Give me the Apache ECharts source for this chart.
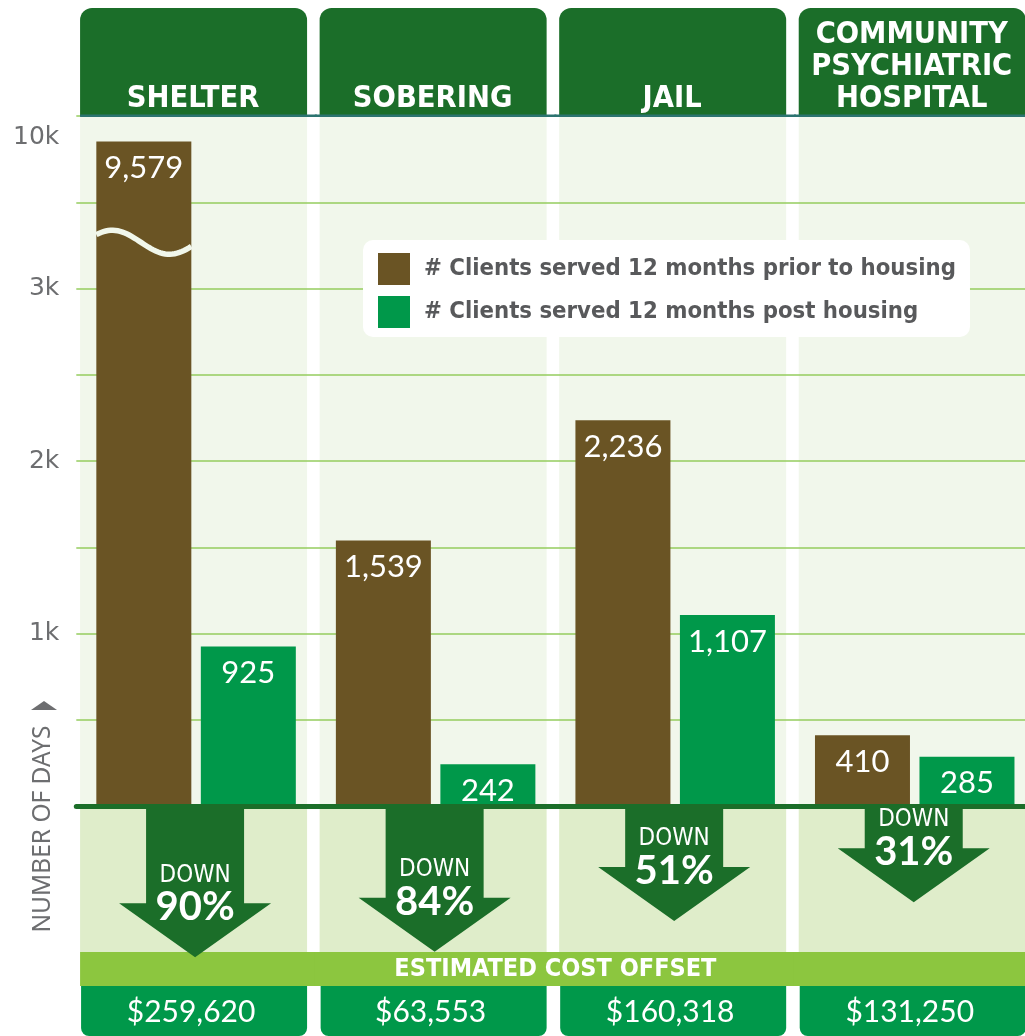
<!DOCTYPE html>
<html><head><meta charset="utf-8">
<script src="https://cdn.jsdelivr.net/npm/echarts@6/dist/echarts.min.js"></script>
<style>html,body{margin:0;padding:0;background:#fff}#chart{width:1025px;height:1036px}</style>
</head><body><div id="chart"></div>
<script>
// ---------------- data ----------------
const CATEGORIES = ['SHELTER', 'SOBERING', 'JAIL', 'COMMUNITY\nPSYCHIATRIC\nHOSPITAL'];
const PRIOR = [9579, 1539, 2236, 410];
const POST = [925, 242, 1107, 285];
const PCT_DOWN = [90, 84, 51, 31];
const COST_OFFSET = ['$259,620', '$63,553', '$160,318', '$131,250'];
const SERIES_NAMES = ['# Clients served 12 months prior to housing', '# Clients served 12 months post housing'];
const Y_TICK_VALUES = [1000, 2000, 3000, 10000];
const Y_TICK_LABELS = ['1k', '2k', '3k', '10k'];
const AXIS_BREAK = 3500;      // axis is linear up to here, compressed above (broken axis)
const BREAK_COMPRESS = 0.058;
const Y_NAME = 'NUMBER OF DAYS';
const DOWN_WORD = 'DOWN';
const OFFSET_TITLE = 'ESTIMATED COST OFFSET';

// ---------------- style ----------------
const BROWN = '#6a5424', GREEN = '#00984a', DARK = '#1b6e29', LIME = '#8cc63f';
const BG_UP = '#f1f7eb', BG_LOW = '#dfedca', GRID_LINE = '#95cc5e', TEAL = '#2c7470';
const COND = "'DejaVu Sans Condensed', 'DejaVu Sans', sans-serif";
const HUM = "Lato, 'Noto Sans', sans-serif";
const BAR_W = 95, BAR_GAP = 0.1;
const PCT_MIN = -72, PCT_MAX = 110;

function toDisplay(v) { return v <= AXIS_BREAK ? v : AXIS_BREAK + (v - AXIS_BREAK) * BREAK_COMPRESS; }
function fmt(v) { return String(v).replace(/\B(?=(\d{3})+(?!\d))/g, ','); }
const TICK_DISPLAY = Y_TICK_VALUES.map(toDisplay);

const chart = echarts.init(document.getElementById('chart'), null, {renderer: 'canvas'});

const gridCommon = {left: 76.3, right: -9.5, outerBoundsMode: 'none', containLabel: false};

const option = {
  animation: false,
  backgroundColor: '#ffffff',
  grid: [
    Object.assign({top: 116, height: 690}, gridCommon),
    Object.assign({top: 806, height: 170}, gridCommon)
  ],
  legend: {
    data: SERIES_NAMES, orient: 'vertical', left: 363, top: 240,
    itemWidth: 32, itemHeight: 32, itemGap: 11, icon: 'rect',
    padding: [13, 14, 9, 15], backgroundColor: '#ffffff', borderRadius: 10,
    selectedMode: false,
    textStyle: {fontFamily: COND, fontWeight: 'bold', fontSize: 23.7, color: '#58595b', padding: [3, 0, 0, 9]}
  },
  xAxis: [
    {type: 'category', gridIndex: 0, data: CATEGORIES, z: 4,
     axisLine: {lineStyle: {color: DARK, width: 5}}, axisTick: {show: false}, axisLabel: {show: false}},
    {type: 'category', gridIndex: 1, data: CATEGORIES, show: false}
  ],
  yAxis: [
    {type: 'value', gridIndex: 0, min: 0, max: 4000, interval: 500,
     axisLine: {show: false}, axisTick: {show: false},
     axisLabel: {customValues: TICK_DISPLAY, margin: 17, color: '#6d6e70', fontSize: 25, fontFamily: "'DejaVu Sans', sans-serif",
       formatter: function (val) {
         let best = 0;
         TICK_DISPLAY.forEach((t, k) => { if (Math.abs(t - val) < Math.abs(TICK_DISPLAY[best] - val)) best = k; });
         return Y_TICK_LABELS[best];
       }},
     splitLine: {lineStyle: {color: GRID_LINE, width: 1.5}}},
    {type: 'value', gridIndex: 1, min: PCT_MIN, max: PCT_MAX, inverse: true, show: false}
  ],
  graphic: [
    {type: 'text', x: 43, y: 829, rotation: Math.PI / 2,
     style: {text: Y_NAME, fill: '#6d6e70', fontSize: 24.5, fontFamily: "'Noto Sans', sans-serif", align: 'center', verticalAlign: 'middle'}},
    {type: 'polygon', shape: {points: [[31, 710], [57, 710], [44, 701]]}, style: {fill: '#6d6e70'}}
  ],
  series: [
    // column backgrounds (below grid lines)
    {type: 'custom', name: 'colbg', xAxisIndex: 0, yAxisIndex: 0, z: -5, silent: true,
     data: CATEGORIES.map((c, i) => [i, 0]),
     renderItem: function (params, api) {
       const p0 = api.coord([api.value(0), 0]);
       const pt = api.coord([api.value(0), 4000]);
       return {type: 'rect', shape: {x: p0[0] - 116, y: pt[1], width: 227, height: p0[1] - pt[1]}, style: {fill: BG_UP}};
     }},
    // frame: headers, lower panel, cost band, cost boxes
    {type: 'custom', name: 'frame', xAxisIndex: 0, yAxisIndex: 0, z: 1, silent: true,
     data: CATEGORIES.map((c, i) => [i, 0]),
     renderItem: function (params, api) {
       const i = api.value(0);
       const p0 = api.coord([i, 0]);
       const pt = api.coord([i, 4000]);
       const bw = api.size([1, 0])[0];
       const cx = p0[0], y0 = p0[1], yt = pt[1];
       const colL = cx - 116, colW = 227;
       const bandL = i === 0 ? colL : cx - bw / 2 - 1;
       const bandR = cx + bw / 2 + 1;
       const children = [
         {type: 'rect', shape: {x: colL, y: yt - 108, width: colW, height: 108, r: [12, 12, 0, 0]}, style: {fill: DARK}},
         {type: 'rect', shape: {x: bandL, y: yt - 1.5, width: bandR - bandL, height: 2.5}, style: {fill: TEAL}},
         {type: 'text', x: cx - 3, y: yt - 1, style: {text: CATEGORIES[i], fill: '#fff', fontSize: 30.5, fontWeight: 'bold',
           fontFamily: COND, align: 'center', verticalAlign: 'bottom', lineHeight: 32}},
         {type: 'rect', shape: {x: colL, y: y0 + 2.5, width: colW, height: 143.5}, style: {fill: BG_LOW}},
         {type: 'rect', shape: {x: bandL, y: y0 + 146, width: bandR - bandL, height: 34}, style: {fill: LIME}},
         {type: 'rect', shape: {x: colL + 1, y: y0 + 180, width: colW - 1, height: 50, r: [0, 0, 8, 8]}, style: {fill: GREEN}},
         {type: 'text', x: cx - 5, y: y0 + 206, style: {text: COST_OFFSET[i], fill: '#fff', fontSize: 30,
           fontFamily: HUM, align: 'center', verticalAlign: 'middle'}}
       ];
       if (i === Math.floor((CATEGORIES.length - 1) / 2)) {
         children.push({type: 'text', x: cx + bw / 2, y: y0 + 163.5, z2: 10, style: {text: OFFSET_TITLE, fill: '#fff', fontSize: 25,
           fontWeight: 'bold', fontFamily: COND, align: 'center', verticalAlign: 'middle'}});
       }
       return {type: 'group', children: children};
     }},
    {type: 'bar', name: SERIES_NAMES[0], xAxisIndex: 0, yAxisIndex: 0, z: 2,
     data: PRIOR.map(toDisplay), barWidth: BAR_W, barGap: (BAR_GAP * 100) + '%',
     itemStyle: {color: BROWN},
     label: {show: true, position: 'insideTop', distance: 11, color: '#fff', fontFamily: HUM, fontSize: 31,
       formatter: p => fmt(PRIOR[p.dataIndex])}},
    {type: 'bar', name: SERIES_NAMES[1], xAxisIndex: 0, yAxisIndex: 0, z: 2,
     data: POST.map(toDisplay), barWidth: BAR_W, barGap: (BAR_GAP * 100) + '%',
     itemStyle: {color: GREEN},
     label: {show: true, position: 'insideTop', distance: 11, color: '#fff', fontFamily: HUM, fontSize: 31,
       formatter: p => fmt(POST[p.dataIndex])}},
    // broken-axis wave across bars exceeding the break
    {type: 'custom', name: 'break', xAxisIndex: 0, yAxisIndex: 0, z: 3, silent: true,
     data: PRIOR.map((v, i) => [i, v]),
     renderItem: function (params, api) {
       const i = api.value(0), v = api.value(1);
       if (v <= AXIS_BREAK) return null;
       const c = api.coord([i, AXIS_BREAK]);
       const center = c[0] - BAR_W * (1 + BAR_GAP) / 2;
       const left = center - BAR_W / 2;
       const yc = c[1] + 40;
       const pts = [];
       for (let k = 0; k <= 40; k++) {
         const x = left + BAR_W * k / 40;
         pts.push([x, yc - 12 * Math.cos(2 * Math.PI * (x - left - 16) / 114)]);
       }
       return {type: 'polyline', shape: {points: pts}, style: {stroke: BG_UP, lineWidth: 5.5, fill: null}};
     }},
    // down arrows
    {type: 'custom', name: 'arrows', xAxisIndex: 1, yAxisIndex: 1, z: 6, silent: true,
     data: PCT_DOWN.map((p, i) => [i, p]),
     renderItem: function (params, api) {
       const i = api.value(0), p = api.value(1);
       const tip = api.coord([i, p]);
       const top = api.coord([i, PCT_MIN])[1];
       const cx = tip[0] - 1, ty = tip[1];
       const hb = ty - 54;
       return {type: 'group', children: [
         {type: 'polygon', shape: {points: [[cx - 49, top], [cx + 49, top], [cx + 49, hb], [cx + 76, hb], [cx, ty], [cx - 76, hb], [cx - 49, hb]]},
          style: {fill: DARK}},
         {type: 'text', x: cx, y: ty - 82, style: {text: DOWN_WORD, fill: '#fff', fontSize: 24, fontFamily: COND, align: 'center', verticalAlign: 'middle'}},
         {type: 'text', x: cx, y: ty - 50, style: {text: p + '%', fill: '#fff', fontSize: 40, fontWeight: 'bold', fontFamily: HUM, align: 'center', verticalAlign: 'middle'}}
       ]};
     }}
  ]
};
chart.setOption(option);
</script>
</body></html>
